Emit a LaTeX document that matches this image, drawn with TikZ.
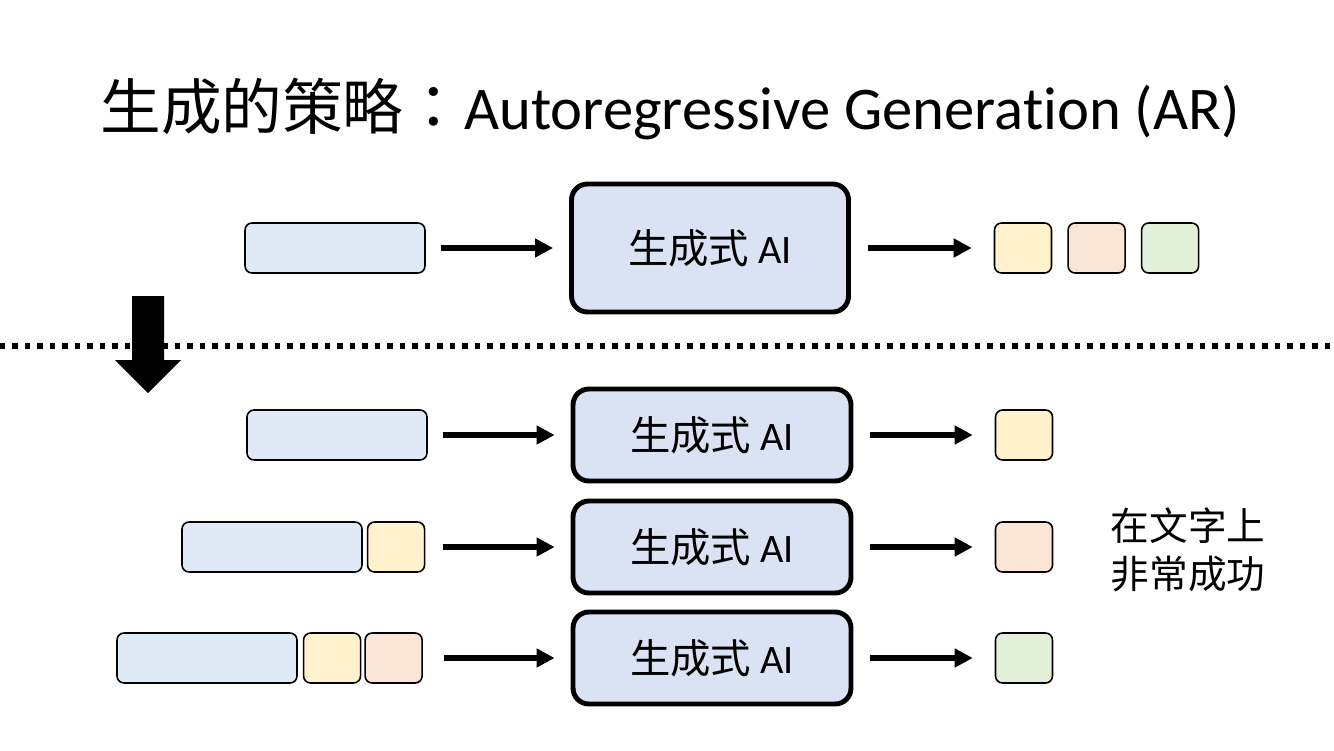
\documentclass[tikz,border=0pt]{standalone}
\usepackage{fontspec}
\setmainfont{Carlito}[Ligatures=CommonOff]
\newfontfamily\cjk{Noto Sans CJK TC}
\usetikzlibrary{
    positioning,
    arrows.meta
}

\definecolor{promptblue}{HTML}{DEEBF7}
\definecolor{modelblue}{HTML}{DAE3F3}
\definecolor{tokyellow}{HTML}{FFF2CC}
\definecolor{tokpeach}{HTML}{FBE5D6}
\definecolor{tokgreen}{HTML}{E2F0D9}

\begin{document}
\begin{tikzpicture}[
    x=0.02cm, y=-0.02cm,
    every node/.style={inner sep=0pt},
    prompt/.style={
        rectangle,
        draw,
        rounded corners=4pt,
        fill=promptblue,
        minimum width=3.6cm,
        minimum height=1cm,
        line width=0.9pt
    },
    token/.style={
        rectangle,
        draw,
        rounded corners=4pt,
        minimum width=1.14cm,
        minimum height=1cm,
        line width=0.9pt
    },
    model/.style={
        rectangle,
        draw,
        rounded corners=9pt,
        fill=modelblue,
        line width=2.8pt,
        minimum width=5.5cm,
        minimum height=1.8cm,
        font=\fontsize{23}{27}\selectfont
    },
    arrow/.style={-{Triangle[length=0.36cm,width=0.36cm]}, line width=3pt},
    outarrow/.style={arrow, shorten <=0.34cm, shorten >=0.44cm}
]
\useasboundingbox (0,0) rectangle (1334,750);

% ---------- Title ----------
\node[font=\fontsize{34.5}{40}\selectfont] (title) at (670,109)
    {{\cjk 生成的策略：}Autoregressive Generation (AR)};

% ---------- Upper part: all at once ----------
\node[prompt] (inA) at (335,248) {};
\node[model, minimum width=5.54cm, minimum height=2.56cm] (aiA) at (710,248) {{\cjk 生成式} AI};
\node[token, fill=tokyellow] (yA) at (1023,248) {};
\node[token, fill=tokpeach, right=0.3cm of yA] (pA) {};
\node[token, fill=tokgreen, right=0.3cm of pA] (gA) {};

\draw[arrow, shorten <=0.3cm, shorten >=0.32cm] (inA) -- (aiA);
\draw[outarrow] (aiA) -- (yA);

% ---------- Separator and down arrow ----------
\coordinate (sepL) at (0,346);
\coordinate (sepR) at (1334,346);
\draw[line width=0.11cm, dash pattern=on 0.11cm off 0.14cm] (sepL) -- (sepR);
\fill (132,296) -- (164,296) -- (164,360) -- (181,360) -- (148,393)
    -- (115,360) -- (132,360) -- cycle;

% ---------- Lower part: one token at a time ----------
\node[prompt] (inB) at (337,435) {};
\node[model, minimum width=5.56cm, minimum height=1.84cm] (aiB) at (712,435) {{\cjk 生成式} AI};
\node[token, fill=tokyellow] (yB) at (1024,435) {};

\node[prompt] (inC) at (272,547) {};
\node[token, fill=tokyellow, right=0.08cm of inC] (yC) {};
\node[model, minimum width=5.56cm, minimum height=1.84cm] (aiC) at (712,547) {{\cjk 生成式} AI};
\node[token, fill=tokpeach] (pC) at (1024,547) {};

\node[prompt] (inD) at (207,658) {};
\node[token, fill=tokyellow, right=0.1cm of inD] (yD) {};
\node[token, fill=tokpeach, right=0.06cm of yD] (pD) {};
\node[model, minimum width=5.56cm, minimum height=1.84cm] (aiD) at (712,658) {{\cjk 生成式} AI};
\node[token, fill=tokgreen] (gD) at (1024,658) {};

\draw[arrow, shorten <=0.3cm, shorten >=0.32cm] (inB) -- (aiB);
\draw[arrow, shorten <=0.36cm, shorten >=0.32cm] (yC) -- (aiC);
\draw[arrow, shorten <=0.42cm, shorten >=0.32cm] (pD) -- (aiD);
\draw[outarrow] (aiB) -- (yB);
\draw[outarrow] (aiC) -- (pC);
\draw[outarrow] (aiD) -- (gD);

% ---------- Side note ----------
\node[align=left, font=\fontsize{22}{27}\selectfont\cjk] (note) at (1188,550)
    {在文字上\\非常成功};

\end{tikzpicture}
\end{document}
